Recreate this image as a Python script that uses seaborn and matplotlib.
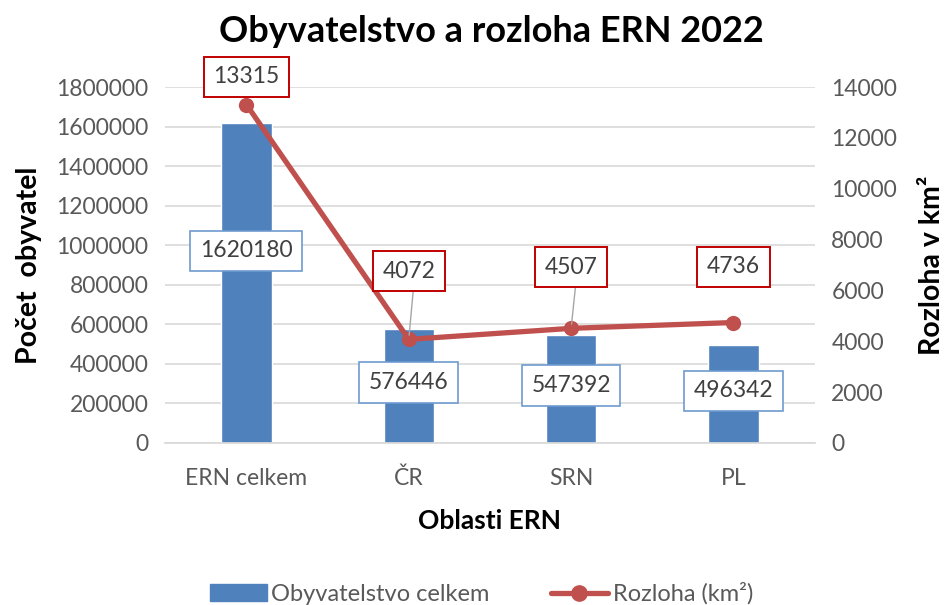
import numpy as np
import pandas as pd
import seaborn as sns
import matplotlib.pyplot as plt
from matplotlib.patches import Patch
from matplotlib.lines import Line2D
from matplotlib.ticker import StrMethodFormatter

# data
regions = ['ERN celkem', 'ČR', 'SRN', 'PL']
population = [1620180, 576446, 547392, 496342]
area_km2 = [13315, 4072, 4507, 4736]

bar_color = '#4F81BD'
line_color = '#C0504D'
text_color = '#595959'
label_color = '#404040'

sns.set_theme(style='white')
plt.rcParams['font.family'] = ['Lato', 'DejaVu Sans']

df = pd.DataFrame({'region': regions, 'population': population, 'area': area_km2})

fig = plt.figure(figsize=(9.44, 6.05), dpi=100)
ax = fig.add_axes([0.175, 0.268, 0.688, 0.588])

sns.barplot(data=df, x='region', y='population', color=bar_color, width=0.31,
            saturation=1, ax=ax, zorder=2)
ax.set_ylim(0, 1800000)
ax.set_yticks(np.arange(0, 1800001, 200000))
ax.yaxis.set_major_formatter(StrMethodFormatter('{x:.0f}'))
ax.set_xlim(-0.5, len(regions) - 0.5)
ax.yaxis.grid(True, color='#D9D9D9', linewidth=1.2, zorder=0)
ax.set_axisbelow(True)
for s in ax.spines.values():
    s.set_visible(False)
ax.spines['bottom'].set_visible(True)
ax.spines['bottom'].set_color('#D9D9D9')
ax.tick_params(axis='both', colors=text_color, labelsize=16.5, length=0, pad=12)
ax.tick_params(axis='x', pad=18)
ax.set_xlabel('Oblasti ERN', fontsize=19, fontweight='bold', color='black', labelpad=14)
ax.set_ylabel('Počet  obyvatel', fontsize=20.5, fontweight='bold', color='black', labelpad=10)

# bar value labels
for i, v in enumerate(population):
    yoff = 0.6 if i == 0 else 0.53
    ax.text(i, v * yoff, str(v), ha='center', va='center', fontsize=16.5,
            color=label_color, zorder=5,
            bbox=dict(boxstyle='square,pad=0.42', fc='white', ec='#6E9BD0', lw=1.2))

ax2 = ax.twinx()
x_pos = np.arange(len(regions))
sns.lineplot(x=x_pos, y=df['area'], ax=ax2, color=line_color, linewidth=3.8,
             marker='o', markersize=11, markeredgewidth=0, zorder=4)
ax2.set_ylim(0, 14000)
ax2.set_yticks(np.arange(0, 14001, 2000))
ax2.set_xlim(-0.5, len(regions) - 0.5)
for s in ax2.spines.values():
    s.set_visible(False)
ax2.tick_params(axis='y', colors=text_color, labelsize=16.5, length=0, pad=12)
ax2.set_ylabel('Rozloha v km²', fontsize=20.5, fontweight='bold', color='black', labelpad=16)
ax2.grid(False)

# line value labels
label_dy = [20, 49, 44, 40]
for i, v in enumerate(area_km2):
    arrow = None
    if i in (1, 2):
        arrow = dict(arrowstyle='-', color='#A6A6A6', lw=1, shrinkA=0, shrinkB=3,
                     relpos=(0.6, 0))
    ax2.annotate(str(v), xy=(i, v), xytext=(0, label_dy[i]), textcoords='offset points',
                 ha='center', va='center', fontsize=16.5, color=label_color, zorder=6,
                 arrowprops=arrow,
                 bbox=dict(boxstyle='square,pad=0.42', fc='white', ec='#C00000', lw=1.4))

fig.suptitle('Obyvatelstvo a rozloha ERN 2022', fontsize=26, fontweight='bold',
             color='black', x=0.52, y=0.975)

handles = [Patch(color=bar_color, label='Obyvatelstvo celkem'),
           Line2D([0], [0], color=line_color, lw=3.8, marker='o', markersize=11,
                  label='Rozloha (km²)')]
fig.legend(handles=handles, loc='lower center', bbox_to_anchor=(0.51, -0.035), ncol=2,
           frameon=False, fontsize=17, labelcolor=text_color, handlelength=2.4,
           handletextpad=0.2, columnspacing=2.6)

fig.savefig('out.png', dpi=100)
